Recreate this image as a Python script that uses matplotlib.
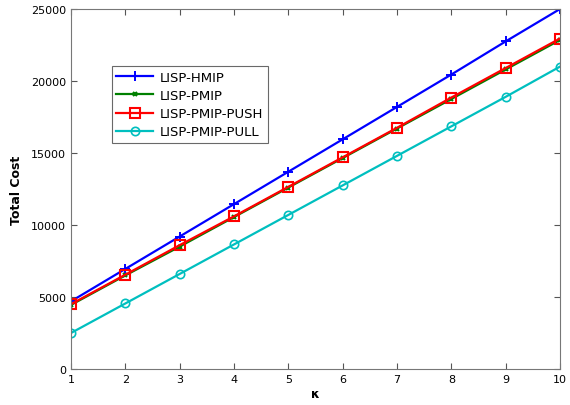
import matplotlib.pyplot as plt

plt.rcParams["font.family"] = ["DejaVu Sans"]

kappa = [1, 2, 3, 4, 5, 6, 7, 8, 9, 10]
hmip = [4700, 6950, 9200, 11450, 13700, 15950, 18200, 20450, 22750, 25000]
pmip = [4450, 6500, 8500, 10550, 12600, 14650, 16700, 18750, 20800, 22850]
pmip_push = [4500, 6550, 8600, 10600, 12650, 14700, 16750, 18850, 20900, 22950]
pmip_pull = [2500, 4550, 6600, 8650, 10700, 12750, 14800, 16850, 18900, 21000]

fig = plt.figure(figsize=(5.70, 4.06), dpi=100)
ax = fig.add_axes([71 / 570, 36 / 406, 489 / 570, 360 / 406])

ax.plot(kappa, hmip, color="#0000ff", lw=1.6, marker="+", ms=7, mew=1.4, label="LISP-HMIP")
ax.plot(kappa, pmip, color="#008000", lw=1.6, marker="x", ms=3, mew=1.5, label="LISP-PMIP")
ax.plot(kappa, pmip_push, color="#ff0000", lw=1.6, marker="s", ms=6.5, mew=1.5,
        mfc="none", label="LISP-PMIP-PUSH")
ax.plot(kappa, pmip_pull, color="#00bfbf", lw=1.6, marker="o", ms=6, mew=1.2,
        mfc="none", label="LISP-PMIP-PULL")

ax.set_xlim(1, 10)
ax.set_ylim(0, 25000)
ax.set_xticks(kappa)
ax.set_yticks(range(0, 25001, 5000))
ax.tick_params(direction="in", top=True, right=True, labelsize=8, length=4, colors="#555555",
               labelcolor="black")
for s in ax.spines.values():
    s.set_color("#777777")

ax.set_xlabel("κ", fontsize=9, fontweight="bold", labelpad=2)
ax.set_ylabel("Total Cost", fontsize=9, fontweight="bold", labelpad=6)

leg = ax.legend(loc="upper left", bbox_to_anchor=(0.07, 0.86), fontsize=9.5, frameon=True,
                fancybox=False, edgecolor="#444444", borderpad=0.35, labelspacing=0.4,
                handlelength=2.8, handletextpad=0.5)
leg.get_frame().set_linewidth(0.8)

fig.savefig("out.png", dpi=100)
